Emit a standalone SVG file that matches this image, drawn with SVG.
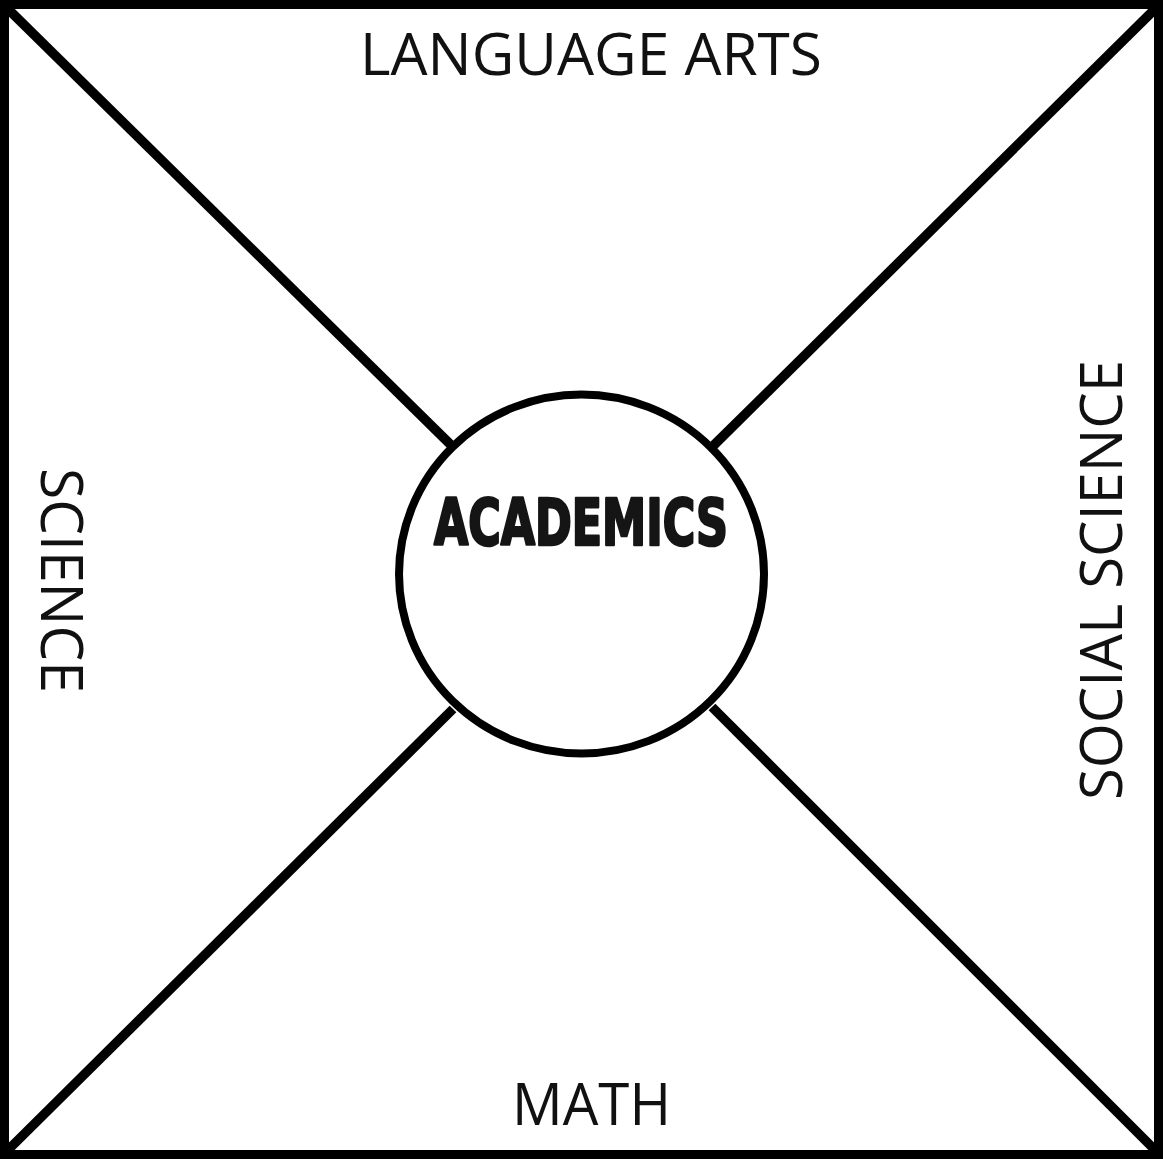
<svg xmlns="http://www.w3.org/2000/svg" width="1163" height="1159" viewBox="0 0 1163 1159">
  <style>
    .edge { stroke: #000; stroke-width: 9.5; fill: none; }
    .label { font-family: "Open Sans", "Noto Sans", "Liberation Sans", sans-serif; font-size: 58px; fill: #111; text-anchor: middle; }
    .title { font-family: "Liberation Sans Narrow", "DejaVu Sans Condensed", "Liberation Sans", sans-serif; font-weight: bold; font-size: 64px; fill: #151515; stroke: #151515; stroke-width: 2.6; stroke-linejoin: round; text-anchor: middle; }
  </style>
  <rect x="0" y="0" width="1163" height="1159" fill="#fff"/>
  <g id="frame">
    <rect x="4.5" y="4.5" width="1154" height="1150" fill="none" stroke="#000" stroke-width="9"/>
  </g>
  <g id="connectors">
    <line class="edge" x1="8" y1="9" x2="452" y2="446"/>
    <line class="edge" x1="1155" y1="9" x2="712" y2="447"/>
    <line class="edge" x1="8" y1="1150" x2="453" y2="709"/>
    <line class="edge" x1="1155" y1="1150" x2="712" y2="707"/>
  </g>
  <g id="node-academics">
    <ellipse cx="581.5" cy="574" rx="182.5" ry="179.5" fill="#fff" stroke="#000" stroke-width="8"/>
    <text class="title" x="581" y="545" textLength="294" lengthAdjust="spacingAndGlyphs">ACADEMICS</text>
  </g>
  <g id="node-language-arts">
    <text class="label" x="591" y="75" textLength="462" lengthAdjust="spacingAndGlyphs">LANGUAGE ARTS</text>
  </g>
  <g id="node-math">
    <text class="label" x="591.5" y="1125" textLength="159" lengthAdjust="spacingAndGlyphs">MATH</text>
  </g>
  <g id="node-science">
    <text class="label" transform="translate(41 580.5) rotate(90)" x="0" y="0" textLength="225" lengthAdjust="spacingAndGlyphs">SCIENCE</text>
  </g>
  <g id="node-social-science">
    <text class="label" transform="translate(1122 580) rotate(-90)" x="0" y="0" textLength="440" lengthAdjust="spacingAndGlyphs">SOCIAL SCIENCE</text>
  </g>
</svg>
